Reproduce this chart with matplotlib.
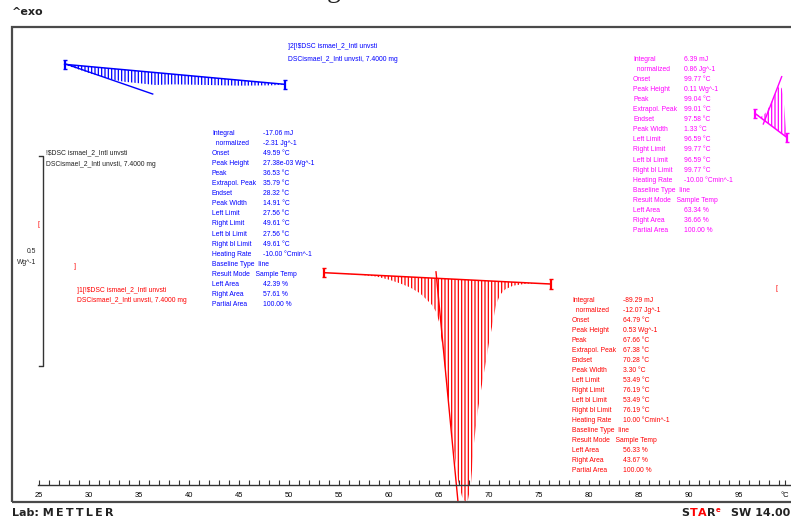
import numpy as np
import matplotlib
matplotlib.use('Agg')
import matplotlib.pyplot as plt
from matplotlib.patches import Rectangle
from matplotlib.ticker import FixedLocator, FixedFormatter

# ============================================================
# data (T in degC, heat flow in Wg^-1, shifted)
# ============================================================
red_T  = [53.49, 55.0, 57.1, 58.8, 60.1, 61.1, 62.1, 63.1, 63.8, 64.3, 64.7, 65.0,
          65.4, 65.9, 66.4, 66.9, 67.3, 67.66, 67.9, 68.2, 68.5, 68.8, 69.1, 69.4,
          69.7, 70.0, 70.3, 70.7, 71.1, 71.6, 72.4, 73.8, 76.19]
red_hf = [0.546, 0.544, 0.541, 0.5365, 0.5286, 0.5206, 0.511, 0.497, 0.481, 0.469, 0.453, 0.429,
          0.362, 0.251, 0.140, 0.052, 0.013, -0.001, 0.005, 0.045, 0.140, 0.203, 0.251, 0.2945,
          0.334, 0.379, 0.417, 0.469, 0.493, 0.506, 0.515, 0.520, 0.519]
red_base_T  = [53.49, 76.19]
red_base_hf = [0.546, 0.519]
red_tan_T   = [64.70, 66.93]
red_tan_hf  = [0.548, -0.007]

blue_T  = [27.56, 27.77, 30.1, 31.77, 33.43, 35.1, 36.6, 38.43, 41.77, 45.1, 48.43, 49.61]
blue_hf = [1.0421, 1.0397, 1.0206, 1.0087, 1.0008, 0.9968, 0.9929, 0.9944, 0.9929, 0.9913, 0.9921, 0.9944]
blue_base_T  = [27.56, 49.61]
blue_base_hf = [1.0421, 0.9944]
blue_tan_T   = [27.77, 36.37]
blue_tan_hf  = [1.0421, 0.9714]

mag_T  = [96.59, 97.27, 97.77, 98.1, 98.43, 98.77, 99.03, 99.27, 99.43, 99.6, 99.77]
mag_hf = [0.9254, 0.9175, 0.9294, 0.9452, 0.9611, 0.9794, 0.9913, 0.985, 0.9675, 0.9175, 0.8683]
mag_base_T  = [96.59, 99.77]
mag_base_hf = [0.9254, 0.8683]
mag_tan_T   = [97.43, 99.27]
mag_tan_hf  = [0.900, 1.0127]

# scale bar 0.5 Wg^-1
scale_T, scale_lo, scale_span = 25.37, 0.324, 0.5

tick_major = [25, 30, 35, 40, 45, 50, 55, 60, 65, 70, 75, 80, 85, 90, 95, 99.6]
tick_labels = ['25', '30', '35', '40', '45', '50', '55', '60', '65', '70', '75',
               '80', '85', '90', '95', '°C']
tick_minor = list(range(25, 100))

row_names = ['Integral', '  normalized', 'Onset', 'Peak Height', 'Peak', 'Extrapol. Peak',
             'Endset', 'Peak Width', 'Left Limit', 'Right Limit', 'Left bl Limit',
             'Right bl Limit', 'Heating Rate', 'Baseline Type  line',
             'Result Mode   Sample Temp', 'Left Area', 'Right Area', 'Partial Area']
blue_vals = ['-17.06 mJ', '-2.31 Jg^-1', '49.59 °C', '27.38e-03 Wg^-1', '36.53 °C', '35.79 °C',
             '28.32 °C', '14.91 °C', '27.56 °C', '49.61 °C', '27.56 °C', '49.61 °C',
             '-10.00 °Cmin^-1', '', '', '42.39 %', '57.61 %', '100.00 %']
mag_vals = ['6.39 mJ', '0.86 Jg^-1', '99.77 °C', '0.11 Wg^-1', '99.04 °C', '99.01 °C',
            '97.58 °C', '1.33 °C', '96.59 °C', '99.77 °C', '96.59 °C', '99.77 °C',
            '-10.00 °Cmin^-1', '', '', '63.34 %', '36.66 %', '100.00 %']
red_vals = ['-89.29 mJ', '-12.07 Jg^-1', '64.79 °C', '0.53 Wg^-1', '67.66 °C', '67.38 °C',
            '70.28 °C', '3.30 °C', '53.49 °C', '76.19 °C', '53.49 °C', '76.19 °C',
            '10.00 °Cmin^-1', '', '', '56.33 %', '43.67 %', '100.00 %']

name1 = '!$DSC ismael_2_Intl unvsti'
name2 = 'DSCismael_2_Intl unvsti, 7.4000 mg'

# ============================================================
W, H = 791, 520
BLUE, RED, MAG, INK = '#0000ff', '#ff0000', '#ff00ff', '#222222'
NARROW = ['Liberation Sans', 'DejaVu Sans']
FS = 4.9
plt.rcParams['hatch.linewidth'] = 0.9

fig = plt.figure(figsize=(W / 100, H / 100), dpi=100)
fig.patch.set_facecolor('white')

def fx(px): return px / W
def fy(py): return 1 - py / H

def txt(px, py, s, c=INK, **kw):
    kw.setdefault('fontsize', FS)
    kw.setdefault('family', NARROW)
    fig.text(fx(px), fy(py), s, color=c, va='center', **kw)

ax = fig.add_axes([fx(12), fy(502), (792 - 12) / W, (502 - 27) / H])
ax.set_xlim(22.3, 100.3)
ax.set_ylim(0, 475 / 420)
for s in ['top', 'left', 'right']:
    ax.spines[s].set_visible(False)
ax.add_patch(Rectangle((0, 0), 1.02, 1, transform=ax.transAxes, fill=False,
                       lw=1.6, ec='#4a4a4a', clip_on=False, zorder=5))

# temperature axis inside the frame
ax.spines['bottom'].set_position(('data', 17 / 420))
ax.spines['bottom'].set_bounds(24.9, 100.3)
ax.spines['bottom'].set_linewidth(1.0)
ax.spines['bottom'].set_color('#333333')
ax.xaxis.set_major_locator(FixedLocator(tick_major))
ax.xaxis.set_major_formatter(FixedFormatter(tick_labels))
ax.xaxis.set_minor_locator(FixedLocator(tick_minor))
ax.tick_params(axis='x', which='both', direction='in', length=3.5, width=0.8,
               color='#333333', labelsize=5.4, pad=5)
for lab in ax.get_xticklabels():
    lab.set_family(NARROW)
ax.set_yticks([])

# integrated areas (hatched) + baselines + tangents
def peak(T, hf, bT, bhf, tT, thf, c):
    ax.fill(T, hf, facecolor='none', edgecolor=c, hatch='|||||', linewidth=0)
    ax.plot(bT, bhf, color=c, lw=1.1)
    ax.plot(tT, thf, color=c, lw=1.0)
    ax.errorbar(bT, bhf, yerr=0.011, fmt='none', ecolor=c, elinewidth=1.6, capsize=1.2)

peak(blue_T, blue_hf, blue_base_T, blue_base_hf, blue_tan_T, blue_tan_hf, BLUE)
peak(red_T, red_hf, red_base_T, red_base_hf, red_tan_T, red_tan_hf, RED)
peak(mag_T, mag_hf, mag_base_T, mag_base_hf, mag_tan_T, mag_tan_hf, MAG)

# scale bar
ax.plot([scale_T - 0.35, scale_T, scale_T, scale_T - 0.35],
        [scale_lo + scale_span, scale_lo + scale_span, scale_lo, scale_lo],
        color='#333333', lw=1.0)
txt(36, 251, '0.5', ha='right')
txt(36, 263, 'Wg^-1', ha='right')

# curve names
txt(288, 47, ']2[' + name1, BLUE)
txt(288, 59.5, name2, BLUE)
txt(46, 153, name1)
txt(46, 164.5, name2)
txt(77, 290.5, ']1[' + name1, RED)
txt(77, 301, name2, RED)
txt(37, 225, '[', RED)
txt(74, 266, ']', RED)
txt(776, 289, '[', RED)

# result tables
def table(x0, y0, vals, c):
    for i, (n, v) in enumerate(zip(row_names, vals)):
        y = y0 + i * 10.05
        txt(x0, y, n, c)
        if v:
            txt(x0 + 51, y, v, c)

table(212, 133.5, blue_vals, BLUE)
table(633, 59.5, mag_vals, MAG)
table(572, 300, red_vals, RED)

# header / footer
BOLD = dict(fontsize=8, weight='bold', family='DejaVu Sans')
txt(12, 12, '^exo', **BOLD)
fig.text(fx(334), 1 + 3 / H, 'g', fontsize=20, family='Liberation Serif', ha='center',
         va='baseline', color=INK)
txt(12, 513, 'Lab: M\u2009E\u2009T\u2009T\u2009L\u2009E\u2009R', **BOLD)
txt(681, 513, 'S', **BOLD)
txt(690, 513, 'T', RED, **BOLD)
txt(698, 513, 'A', RED, **BOLD)
txt(707, 513, 'R', **BOLD)
txt(716, 510, 'e', RED, fontsize=5, weight='bold', family='DejaVu Sans')
txt(790, 513, 'SW 14.00', ha='right', **BOLD)

fig.savefig('out.png', dpi=100)
